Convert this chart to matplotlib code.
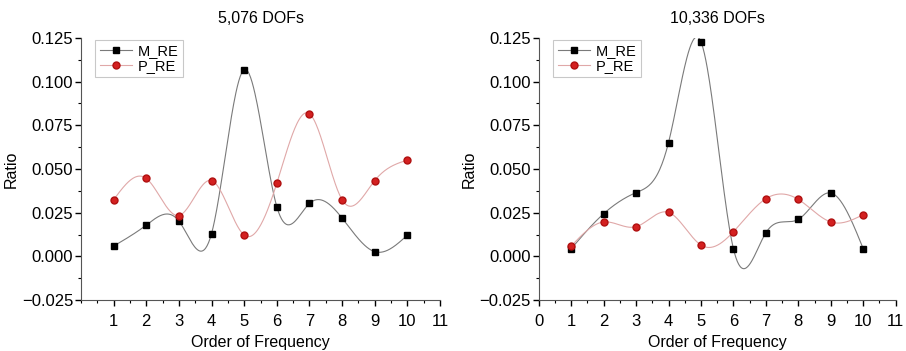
import numpy as np
import matplotlib.pyplot as plt
from matplotlib.ticker import MultipleLocator

plt.rcParams['font.family'] = ['Liberation Sans', 'DejaVu Sans']

order = [1, 2, 3, 4, 5, 6, 7, 8, 9, 10]

m_re_5076 = [0.0059, 0.0179, 0.0202, 0.0131, 0.1069, 0.0284, 0.0303, 0.0219, 0.0027, 0.0122]
p_re_5076 = [0.0324, 0.0446, 0.0234, 0.0434, 0.0122, 0.0419, 0.0816, 0.0324, 0.0434, 0.0551]

m_re_10336 = [0.0044, 0.0244, 0.0365, 0.0651, 0.1227, 0.0044, 0.0135, 0.0212, 0.0363, 0.0044]
p_re_10336 = [0.0059, 0.0197, 0.0170, 0.0252, 0.0065, 0.0141, 0.0330, 0.0326, 0.0197, 0.0239]


def natural_spline(x, y, n=400):
  # plain natural cubic spline, like the "spline" connect in Origin
  x = np.asarray(x, float)
  y = np.asarray(y, float)
  k = len(x)
  h = np.diff(x)
  A = np.zeros((k, k))
  b = np.zeros(k)
  A[0, 0] = 1
  A[-1, -1] = 1
  for i in range(1, k - 1):
    A[i, i - 1] = h[i - 1]
    A[i, i] = 2 * (h[i - 1] + h[i])
    A[i, i + 1] = h[i]
    b[i] = 3 * ((y[i + 1] - y[i]) / h[i] - (y[i] - y[i - 1]) / h[i - 1])
  c = np.linalg.solve(A, b)
  xs = np.linspace(x[0], x[-1], n)
  idx = np.clip(np.searchsorted(x, xs) - 1, 0, k - 2)
  dx = xs - x[idx]
  hi = h[idx]
  bb = (y[idx + 1] - y[idx]) / hi - hi * (2 * c[idx] + c[idx + 1]) / 3
  dd = (c[idx + 1] - c[idx]) / (3 * hi)
  ys = y[idx] + bb * dx + c[idx] * dx**2 + dd * dx**3
  return xs, ys


def panel(ax, title, m, p, xticks):
  xs, ys = natural_spline(order, m)
  ax.plot(xs, ys, color='#7a7a7a', lw=0.8)
  xs, ys = natural_spline(order, p)
  ax.plot(xs, ys, color='#e0a8a8', lw=0.8)
  ax.plot(order, m, ls='none', marker='s', ms=4.5, color='black')
  ax.plot(order, p, ls='none', marker='o', ms=5, mfc='#d42020', mec='#b01010')
  ax.plot([], [], color='#7a7a7a', lw=0.8, marker='s', ms=4.5, mfc='black', mec='black', label='M_RE')
  ax.plot([], [], color='#e0a8a8', lw=0.8, marker='o', ms=5, mfc='#d42020', mec='#b01010', label='P_RE')

  ax.set_xlim(0, 11)
  ax.set_ylim(-0.025, 0.125)
  ax.set_xticks(xticks)
  ax.xaxis.set_minor_locator(MultipleLocator(0.5))
  ax.yaxis.set_major_locator(MultipleLocator(0.025))
  ax.yaxis.set_minor_locator(MultipleLocator(0.0125))
  ax.yaxis.set_major_formatter(plt.FuncFormatter(lambda v, pos: ('%.3f' % v).replace('-', '\u2212')))
  ax.tick_params(which='major', direction='out', length=4, width=1, labelsize=12)
  ax.tick_params(axis='x', which='major', pad=6)
  ax.tick_params(axis='y', which='major', pad=1.5)
  ax.tick_params(which='minor', direction='out', length=2, width=0.8)
  for s in ['top', 'right']:
    ax.spines[s].set_visible(False)
  for s in ['left', 'bottom']:
    ax.spines[s].set_color('#555555')
  ax.set_title(title, fontsize=11.5, pad=11)
  ax.set_xlabel('Order of Frequency', fontsize=11.5, labelpad=4)
  ax.set_ylabel('Ratio', fontsize=11.5, labelpad=2)
  leg = ax.legend(loc='upper left', bbox_to_anchor=(0.02, 1.02), fontsize=10.5, frameon=True,
                  fancybox=False, edgecolor='#bbbbbb', handlelength=2.2,
                  borderpad=0.3, labelspacing=0.05, handletextpad=0.4)
  leg.get_frame().set_linewidth(0.8)


fig = plt.figure(figsize=(9.06, 3.51), dpi=100)
ax1 = fig.add_axes([0.0894, 0.145, 0.3963, 0.747])
ax2 = fig.add_axes([0.5946, 0.145, 0.394, 0.747])

panel(ax1, '5,076 DOFs', m_re_5076, p_re_5076, list(range(1, 12)))
panel(ax2, '10,336 DOFs', m_re_10336, p_re_10336, list(range(0, 12)))

fig.savefig('out.png', dpi=100)
